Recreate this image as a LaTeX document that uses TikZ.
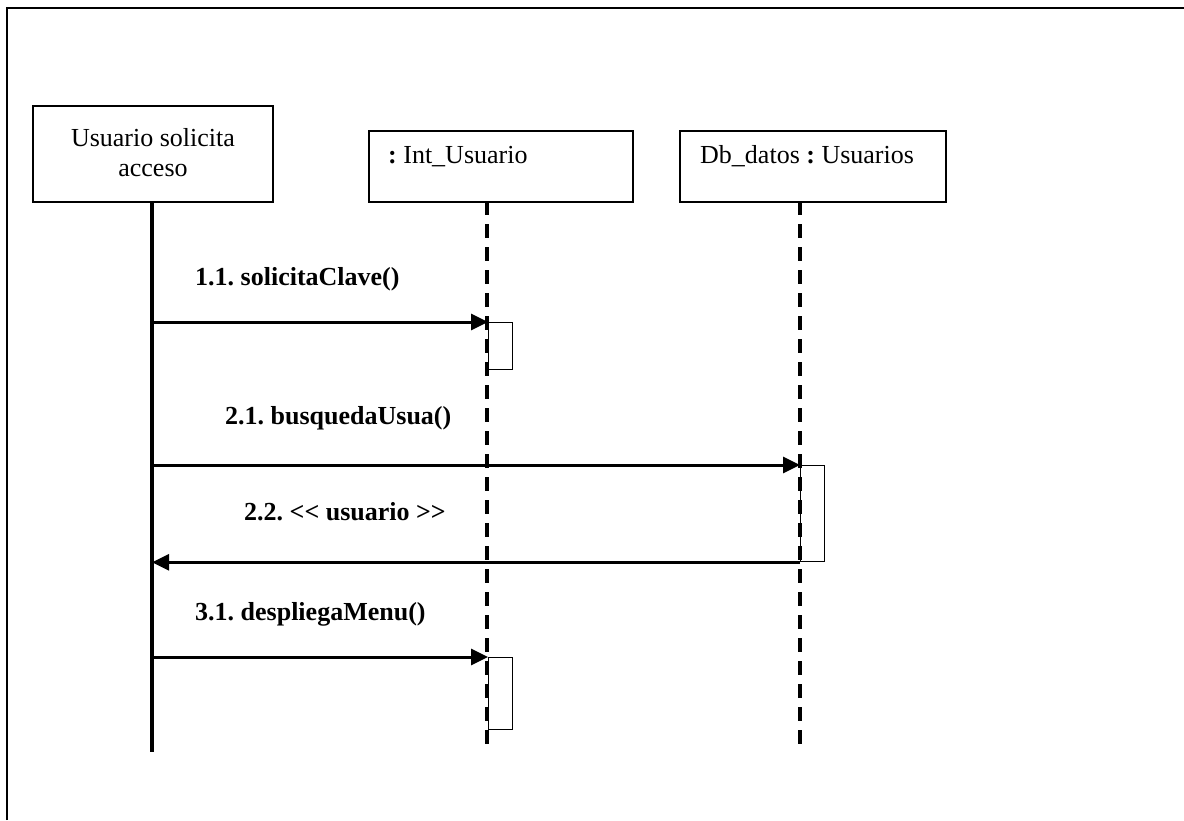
\documentclass[tikz,border=0pt]{standalone}
\usepackage{fontspec}
\setmainfont{Liberation Serif}
\usetikzlibrary{arrows.meta}
\frenchspacing
\begin{document}
\begin{tikzpicture}[x=1pt,y=-1pt,
  headbox/.style={draw,line width=2.2pt,anchor=north west,inner sep=0pt},
  actbox/.style={draw,line width=1.3pt,anchor=north west,inner sep=0pt,minimum width=24pt},
  lifesolid/.style={line width=3.5pt},
  lifedash/.style={line width=3.2pt,dash pattern=on 14pt off 9pt},
  msg/.style={line width=3pt,-{Triangle[length=17pt,width=16pt]}},
  txt/.style={font=\fontsize{26}{30}\selectfont,inner sep=0pt},
  msgtxt/.style={font=\fontsize{26}{30}\selectfont\bfseries,inner sep=0pt,anchor=base west}]
\useasboundingbox (0,0) rectangle (1184,820);
% outer frame (top and left edges)
\draw[line width=2pt] (7,820) -- (7,8) -- (1184,8);

% lifeline heads
\node[headbox,minimum width=240pt,minimum height=96pt] (usr) at (32,105) {};
\node[txt,align=center] (usrlbl) at (153,153) {Usuario solicita\\acceso};
\node[headbox,minimum width=264pt,minimum height=71pt] (int) at (368,130) {};
\node[txt,anchor=base west] (intlbl) at (388,163) {{\bfseries :} Int\_Usuario};
\node[headbox,minimum width=266pt,minimum height=71pt] (db) at (679,130) {};
\node[txt,anchor=base west] (dblbl) at (700,163) {Db\_datos {\bfseries :} Usuarios};

% lifelines
\coordinate (usrtop) at (152,201);
\coordinate (usrend) at (152,752);
\coordinate (inttop) at (487,201);
\coordinate (intend) at (487,752);
\coordinate (dbtop) at (800,201);
\coordinate (dbend) at (800,746);
\draw[lifesolid] (usrtop) -- (usrend);
\draw[lifedash] (inttop) -- (intend);
\draw[lifedash] (dbtop) -- (dbend);

% activation bars
\node[actbox,minimum height=47pt] (act1) at (488,322) {};
\node[actbox,minimum height=96pt] (act2) at (800,465) {};
\node[actbox,minimum height=72pt] (act3) at (488,657) {};

% messages
\coordinate (s1) at (152,322);
\coordinate (s2) at (152,465);
\coordinate (s3) at (152,657);
\draw[msg] (s1) -- (act1.north west);
\draw[msg] (s2) -- (act2.north west);
\draw[msg] (act2.south west) -- (act2.south west -| usrtop);
\draw[msg] (s3) -- (act3.north west);

% message labels
\node[msgtxt] (l11) at (195,285) {1.1. solicitaClave()};
\node[msgtxt] (l21) at (225,424) {2.1. busquedaUsua()};
\node[msgtxt] (l22) at (244,520) {2.2. {<}{<} usuario {>}{>}};
\node[msgtxt] (l31) at (195,620) {3.1. despliegaMenu()};
\end{tikzpicture}
\end{document}
